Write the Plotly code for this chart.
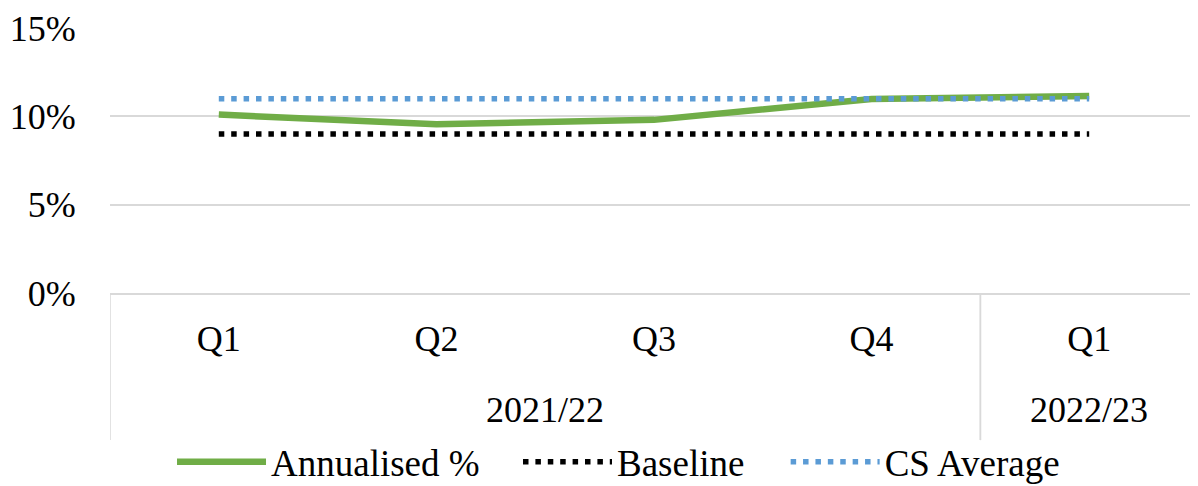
import plotly.graph_objects as go

years = ["2021/22", "2021/22", "2021/22", "2021/22", "2022/23"]
quarters = ["Q1", "Q2", "Q3", "Q4", "Q1"]
annualised = [10.1, 9.55, 9.8, 10.98, 11.15]
baseline = [9.0, 9.0, 9.0, 9.0, 9.0]
cs_average = [11.0, 11.0, 11.0, 11.0, 11.0]
y_ticks = [0, 5, 10, 15]
y_labels = ["0%", "5%", "10%", "15%"]

cats = [f"{y} {q}" for y, q in zip(years, quarters)]
font = dict(family="Times New Roman", size=36, color="black")
legend_font = dict(family="Times New Roman", size=37, color="black")
grid = "#d9d9d9"

fig = go.Figure()
fig.add_trace(go.Scatter(x=cats, y=annualised, name="Annualised %", mode="lines",
                         line=dict(color="#70ad47", width=6.5), legend="legend"))
fig.add_trace(go.Scatter(x=cats, y=baseline, name="Baseline", mode="lines",
                         line=dict(color="black", width=5.5, dash="5.5px,6.9px"),
                         legend="legend2"))
fig.add_trace(go.Scatter(x=cats, y=cs_average, name="CS Average", mode="lines",
                         line=dict(color="#5b9bd5", width=5.5, dash="5.5px,6.9px"),
                         legend="legend3"))

# year group labels and dividers, placed on the category axis
groups = []
for i, yr in enumerate(years):
    if not groups or groups[-1][0] != yr:
        groups.append([yr, i, i])
    else:
        groups[-1][2] = i
for yr, i0, i1 in groups:
    fig.add_annotation(x=(i0 + i1) / 2, xref="x", y=-0.44, yref="paper", text=yr,
                       showarrow=False, font=font, yanchor="middle")
    for edge in (i0 - 0.5, i1 + 0.5):
        fig.add_shape(type="line", xref="x", yref="paper", x0=edge, x1=edge, y0=0, y1=-0.555,
                      line=dict(color=grid, width=1.5), layer="below")

leg = dict(orientation="h", xanchor="left", yref="container", y=0.05, yanchor="middle",
           itemwidth=89, font=legend_font, bgcolor="rgba(0,0,0,0)")
fig.update_layout(
    width=1190, height=478,
    margin=dict(l=102, r=0, t=20, b=193),
    paper_bgcolor="white", plot_bgcolor="white",
    font=font,
    showlegend=True,
    legend=dict(leg, x=0.057),
    legend2=dict(leg, x=0.375),
    legend3=dict(leg, x=0.621),
)
fig.update_yaxes(range=[0, 15], tickvals=y_ticks, ticktext=y_labels,
                 showgrid=True, gridcolor=grid, gridwidth=1.5, zeroline=False,
                 showline=False, ticks="outside", ticklen=26, tickcolor="rgba(0,0,0,0)",
                 tickfont=font, automargin=False)
fig.update_xaxes(type="category", range=[-0.5, 4.5], tickvals=cats, ticktext=quarters,
                 showgrid=False, showline=True, linecolor=grid, linewidth=1.5,
                 tickfont=font, ticks="outside", ticklen=13, tickcolor="rgba(0,0,0,0)",
                 automargin=False)
fig.write_html("out.html")
